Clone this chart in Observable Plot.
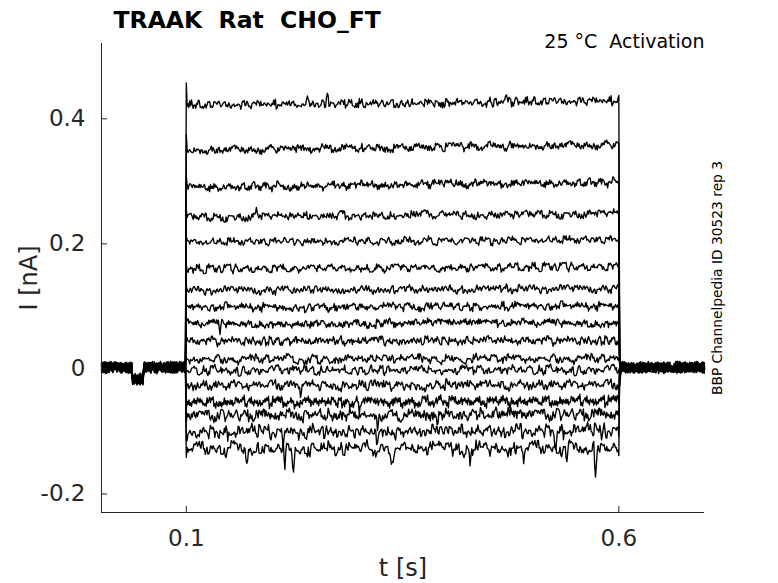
<!DOCTYPE html>
<html><head><meta charset="utf-8">
<script src="https://cdn.jsdelivr.net/npm/d3@7"></script>
<script src="https://cdn.jsdelivr.net/npm/@observablehq/plot@0.6"></script>
<style>
body{margin:0;background:#fff;}
#wrap{width:778px;height:583px;}
</style></head><body>
<div id="wrap"></div>
<script>
// ---- data ----
const titleText = "TRAAK  Rat  CHO_FT";
const conditionText = "25 °C  Activation";
const sideText = "BBP Channelpedia ID 30523 rep 3";
const xLabel = "t [s]";
const yLabel = "I [nA]";
const xTicks = [0.1, 0.6];
const xTickLabels = ["0.1", "0.6"];
const yTicks = [-0.2, 0, 0.2, 0.4];
const yTickLabels = ["-0.2", "0", "0.2", "0.4"];
const xDomain = [0.002, 0.699];
const yDomain = [-0.232, 0.518];
const stepOnMs = 100, stepOffMs = 600;          // voltage step, ms
// steady current of each sweep at step start / step end (nA)
const levelStart = [0.419,0.347,0.288,0.240,0.200,0.157,0.123,0.096,0.070,0.042,0.013,-0.005,-0.029,-0.056,-0.077,-0.104,-0.131];
const levelEnd   = [0.426,0.356,0.296,0.246,0.204,0.161,0.126,0.098,0.071,0.043,0.014,-0.004,-0.028,-0.054,-0.075,-0.101,-0.129];
// capacitive peak at onset and value at the end of the step (nA)
const onsetPeak  = [0.455,0.372,0.305,0.252,0.210,0.165,0.130,0.101,0.073,0.045,0.015,-0.008,-0.036,-0.066,-0.088,-0.118,-0.144];
const offsetPeak = [0.435,0.358,0.297,0.247,0.205,0.162,0.127,0.099,0.072,0.044,0.015,-0.004,-0.030,-0.056,-0.078,-0.110,-0.141];
// noise amplitude per sweep during the step (nA)
const noiseAmp = [0.0088,0.0088,0.0085,0.0085,0.0082,0.0082,0.0082,0.0085,0.0085,0.0088,0.0092,0.0098,0.0105,0.0115,0.0125,0.0140,0.0155];
const baseNoise = 0.0098;
// small dip of the holding current before the step: [start s, end s, nA]
const holdDip = [0.038, 0.050, -0.019];
// brief tail after the step: [sweep, ms, nA]
const offTail = [[0,601,-0.032],[0,602,-0.016],[0,603,-0.006]];
// visible single spikes: [sweep, t (s), nA]
const spikes = [
  [0,0.240,0.010],[0,0.263,0.016],[0,0.359,-0.010],[0,0.470,0.008],
  [1,0.310,0.008],[1,0.450,0.007],
  [3,0.181,0.013],
  [7,0.238,-0.008],
  [8,0.139,-0.014],
  [12,0.232,-0.012],
  [13,0.300,-0.010],
  [14,0.321,-0.020],[14,0.390,-0.020],
  [15,0.212,-0.027],[15,0.260,-0.015],[15,0.321,-0.022],[15,0.527,-0.033],[15,0.580,-0.020],
  [16,0.170,-0.020],[16,0.214,-0.034],[16,0.224,-0.040],[16,0.338,-0.024],[16,0.428,-0.024],
  [16,0.490,-0.020],[16,0.540,-0.035],[16,0.573,-0.040]
];
// hand-typed noise texture
const noisePattern = [
 0.42,-0.31,0.77,-0.58,0.12,0.93,-0.84,0.25,-0.07,0.61,
-0.49,0.18,-0.95,0.66,0.04,-0.37,0.88,-0.22,0.51,-0.73,
 0.34,-0.12,0.97,-0.64,0.29,-0.88,0.55,0.08,-0.43,0.71,
-0.19,0.83,-0.56,0.15,-0.99,0.47,0.21,-0.68,0.79,-0.33,
 0.02,0.58,-0.81,0.37,-0.26,0.91,-0.52,0.13,-0.74,0.64,
-0.09,0.45,-0.62,0.86,-0.41,0.19,-0.92,0.53,0.31,-0.15,
 0.72,-0.79,0.06,0.98,-0.47,0.27,-0.65,0.41,-0.03,0.84,
-0.71,0.23,-0.36,0.69,-0.87,0.11,0.57,-0.28,0.92,-0.54,
 0.16,-0.77,0.49,-0.18,0.81,-0.44,0.35,-0.96,0.62,0.09,
-0.59,0.74,-0.24,0.38,-0.83,0.52,-0.11
];

// ---- build sweep table ----
const N = noisePattern.length;
const rows = [];
for (let k = 0; k < levelStart.length; k++) {
  for (let ms = 2; ms <= 699; ms++) {
    const t = ms / 1000;
    const fast = noisePattern[(ms * (k + 1) * 7 + k * 13) % N];
    const slow = noisePattern[(Math.floor(ms / 4) * (k + 3) + k * 29) % N];
    const n = 0.55 * fast + 0.5 * slow;
    let v;
    if (ms < stepOnMs) {
      v = baseNoise * n;
      if (t >= holdDip[0] && t <= holdDip[1]) v += holdDip[2];
    } else if (ms === stepOnMs) {
      v = onsetPeak[k];
    } else if (ms < stepOffMs) {
      const f = (ms - stepOnMs) / (stepOffMs - stepOnMs);
      v = levelStart[k] + (levelEnd[k] - levelStart[k]) * f + noiseAmp[k] * n;
      for (const [sk, st, sa] of spikes) {
        if (sk !== k) continue;
        const d = Math.abs(t - st);
        if (d < 0.002) v += sa * (1 - d / 0.002);
      }
    } else if (ms === stepOffMs) {
      v = offsetPeak[k];
    } else {
      v = baseNoise * n;
      for (const [tk, tm, tv] of offTail) if (tk === k && tm === ms) v += tv;
    }
    rows.push({sweep: k, t, v});
  }
}

const ink = "#262626";
const chart = Plot.plot({
  width: 778, height: 583,
  marginLeft: 101, marginRight: 74, marginTop: 43, marginBottom: 71,
  style: {fontFamily: "DejaVu Sans", background: "#fff", whiteSpace: "pre", overflow: "visible"},
  x: {domain: xDomain},
  y: {domain: yDomain},
  marks: [
    Plot.line(rows, {x: "t", y: "v", z: "sweep", stroke: "#000", strokeWidth: 1.35}),
    Plot.ruleX([xDomain[0]], {stroke: ink}),
    Plot.ruleY([yDomain[0]], {stroke: ink}),
    Plot.axisY(yTicks, {tickSize: -6, tickPadding: 22, dy: 1.5, fontSize: 23, color: ink, stroke: ink,
      tickFormat: d => yTickLabels[yTicks.indexOf(d)], label: null}),
    Plot.axisX(xTicks, {tickSize: -6, tickPadding: 23, fontSize: 23, color: ink, stroke: ink,
      tickFormat: d => xTickLabels[xTicks.indexOf(d)], label: null}),
    Plot.text([titleText], {frameAnchor: "top-left", dx: 12, dy: -16, lineAnchor: "bottom",
      textAnchor: "start", fontWeight: "bold", fontSize: 23.5, fill: "#000"}),
    Plot.text([conditionText], {frameAnchor: "top-right", dx: 0, dy: 4, lineAnchor: "bottom",
      textAnchor: "end", fontSize: 19, fill: "#000"}),
    Plot.text([yLabel], {frameAnchor: "left", dx: -65, rotate: -90, lineAnchor: "bottom",
      textAnchor: "middle", fontSize: 24, fill: ink}),
    Plot.text([xLabel], {frameAnchor: "bottom", dy: 63, lineAnchor: "bottom",
      textAnchor: "middle", fontSize: 24, fill: ink}),
    Plot.text([sideText], {frameAnchor: "right", dx: 17.5, rotate: -90, lineAnchor: "bottom",
      textAnchor: "middle", fontSize: 13.8, fill: "#000"})
  ]
});
document.getElementById("wrap").appendChild(chart);
</script>
</body></html>
